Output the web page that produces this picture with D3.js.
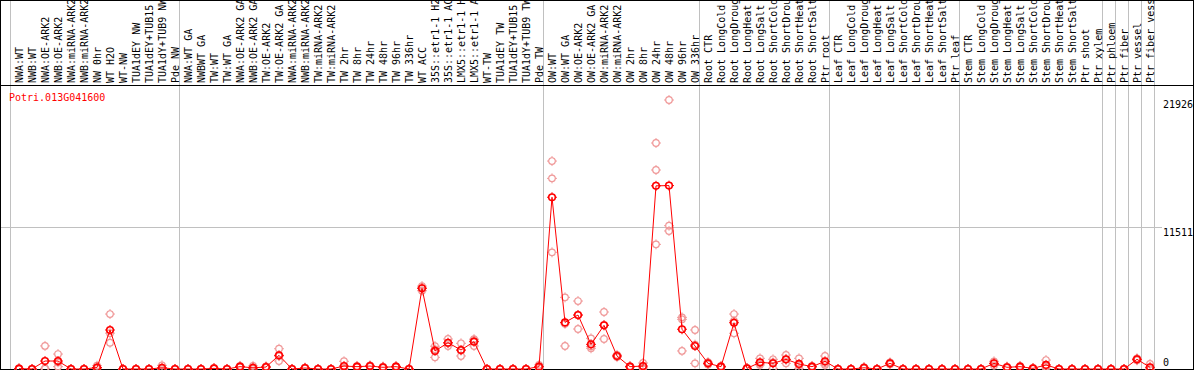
<!DOCTYPE html>
<html>
<head>
<meta charset="utf-8">
<script src="https://cdn.jsdelivr.net/npm/d3@7"></script>
<style>
  body { margin: 0; background: #fff; }
  text { font-family: "DejaVu Sans Mono", monospace; font-size: 10px; }
</style>
</head>
<body>
<div id="chart"></div>
<script>
'use strict';

var geneName = "Potri.013G041600";

var categories = [
    "NWA:WT", "NWB:WT", "NWA:OE-ARK2", "NWB:OE-ARK2", "NWA:miRNA-ARK2", "NWB:miRNA-ARK2", "NW 0hr", "WT H2O", "WT-NW", "TUA1dEY NW", "TUA1dEY+TUB15", "TUA1dY+TUB9 NW", "Pde NW",
    "NWA:WT GA", "NWBWT GA", "TW:WT", "TW:WT GA", "NWA:OE-ARK2 GA", "NWB:OE-ARK2 GA", "TW:OE-ARK2", "TW:OE-ARK2 GA", "NWA:miRNA-ARK2", "NWB:miRNA-ARK2", "TW:miRNA-ARK2", "TW:miRNA-ARK2",
    "TW 2hr", "TW 8hr", "TW 24hr", "TW 48hr", "TW 96hr", "TW 336hr", "WT ACC", "35S::etr1-1 H2O", "35S::etr1-1 ACC", "LMX5::etr1-1 H2O", "LMX5::etr1-1 ACC", "WT-TW", "TUA1dEY TW", "TUA1dEY+TUB15", "TUA1dY+TUB9 TW", "Pde TW",
    "OW:WT", "OW:WT GA", "OW:OE-ARK2", "OW:OE-ARK2 GA", "OW:miRNA-ARK2", "OW:miRNA-ARK2", "OW 2hr", "OW 8hr", "OW 24hr", "OW 48hr", "OW 96hr", "OW 336hr",
    "Root CTR", "Root LongCold", "Root LongDrought", "Root LongHeat", "Root LongSalt", "Root ShortCold", "Root ShortDrought", "Root ShortHeat", "Root ShortSalt", "Ptr root",
    "Leaf CTR", "Leaf LongCold", "Leaf LongDrought", "Leaf LongHeat", "Leaf LongSalt", "Leaf ShortCold", "Leaf ShortDrought", "Leaf ShortHeat", "Leaf ShortSalt", "Ptr leaf",
    "Stem CTR", "Stem LongCold", "Stem LongDrought", "Stem LongHeat", "Stem LongSalt", "Stem ShortCold", "Stem ShortDrought", "Stem ShortHeat", "Stem ShortSalt", "Ptr shoot", "Ptr xylem",
    "Ptr phloem", "Ptr fiber", "Ptr vessel", "Ptr fiber vessel"
];

// number of samples in each block (block separators are drawn between them)
var groupSizes = [13, 28, 12, 10, 10, 11, 1, 1, 1, 1];

var meanValues = [
    30, 0, 650, 650, 0, 0, 120, 3180, 0, 0, 0, 100, 0,
    0, 0, 50, 0, 190, 100, 160, 1115, 0, 80, 0, 0, 240, 190, 240, 140, 190, 0, 6580, 1470, 2140, 1550, 2225, 0, 0, 0, 0, 190,
    14000, 3800, 4400, 2010, 3560, 1060, 190, 240, 14930, 14950, 3240, 1875,
    460, 190, 3770, 50, 545, 460, 790, 410, 190, 625,
    0, 0, 100, 0, 460, 0, 0, 0, 0, 0,
    0, 0, 460, 140, 190, 50, 330, 0, 0, 0, 0,
    0, 0, 790, 140
];

var replicateA = [
    60, 0, 1880, 1220, 0, 0, 270, 4480, 0, 0, 0, 300, 0,
    0, 0, 80, 0, 250, 250, 220, 1650, 0, 120, 0, 0, 630, 250, 300, 200, 240, 0, 6760, 1860, 2445, 2095, 2435, 0, 0, 0, 0, 330,
    16950, 5840, 5540, 2500, 4645, 1150, 240, 490, 18420, 21926, 4210, 3180,
    560, 250, 4480, 80, 870, 790, 1140, 870, 250, 1060,
    0, 0, 150, 0, 540, 0, 0, 0, 0, 0,
    0, 0, 625, 200, 250, 80, 730, 0, 0, 0, 0,
    0, 0, 870, 410
];

var replicateB = [
    20, 0, 50, 540, 0, 0, 60, 2920, 0, 0, 0, 0, 0,
    0, 0, 50, 0, 180, 40, 150, 1050, 0, 80, 0, 0, 60, 180, 230, 130, 190, 0, 6600, 1600, 2100, 1500, 2365, 0, 0, 0, 0, 150,
    15540, 3685, 4400, 1840, 3590, 1060, 190, 150, 16220, 11680, 4050, 1985,
    460, 190, 3920, 50, 435, 540, 770, 310, 190, 490,
    0, 0, 100, 0, 460, 0, 0, 0, 0, 0,
    0, 0, 460, 140, 190, 50, 200, 0, 0, 0, 0,
    0, 0, 790, 10
];

var replicateC = [
    10, 0, 20, 190, 0, 0, 30, 2140, 0, 0, 0, 0, 0,
    0, 0, 20, 0, 140, 10, 110, 650, 0, 40, 0, 0, 30, 140, 190, 90, 140, 0, 6380, 950, 1875, 1060, 1875, 0, 0, 0, 0, 90,
    9510, 1875, 3260, 1690, 2445, 970, 140, 80, 10160, 11250, 1470, 460,
    370, 130, 2910, 20, 330, 50, 460, 50, 130, 330,
    0, 0, 50, 0, 380, 0, 0, 0, 0, 0,
    0, 0, 295, 80, 130, 20, 60, 0, 0, 0, 0,
    0, 0, 710, 0
];

var yTicks = [0, 11511, 21926];

var width = 1194, height = 370;
var step = 13, plotLeft = 10;
var headerBottom = 85, plotBottom = 369;
var labelX = 1163;

var svg = d3.select("#chart").append("svg")
    .attr("width", width)
    .attr("height", height);

var x = d3.scaleBand()
    .domain(d3.range(categories.length))
    .range([plotLeft, plotLeft + step * categories.length]);

// sample markers sit a bit right of the band middle
function px(i) { return x(i) + 9; }

var y = d3.scaleLinear()
    .domain([0, d3.max(yTicks)])
    .range([plotBottom, 100]);

//Trennlinien zwischen den Blöcken
var bounds = [0];
groupSizes.forEach(function (n) { bounds.push(bounds[bounds.length - 1] + n); });

svg.append("g")
    .selectAll("line")
    .data(bounds)
    .enter().append("line")
    .attr("x1", d => plotLeft + d * x.step() + 0.5)
    .attr("x2", d => plotLeft + d * x.step() + 0.5)
    .attr("y1", 0)
    .attr("y2", plotBottom)
    .attr("stroke", "#c0c0c0");

// horizontal grid line for middle tick
svg.append("g")
    .selectAll("line")
    .data(yTicks.filter(t => t > 0 && t < d3.max(yTicks)))
    .enter().append("line")
    .attr("x1", 1)
    .attr("x2", labelX - 1)
    .attr("y1", d => Math.round(y(d)) - 0.5)
    .attr("y2", d => Math.round(y(d)) - 0.5)
    .attr("stroke", "#c0c0c0");

// frame
svg.append("line")
    .attr("x1", 0).attr("x2", width)
    .attr("y1", headerBottom + 0.5).attr("y2", headerBottom + 0.5)
    .attr("stroke", "#000");
svg.append("line")
    .attr("x1", 0).attr("x2", width)
    .attr("y1", plotBottom + 0.5).attr("y2", plotBottom + 0.5)
    .attr("stroke", "#000");
svg.append("line")
    .attr("x1", 0).attr("x2", width)
    .attr("y1", 0.5).attr("y2", 0.5)
    .attr("stroke", "#000");
svg.append("line")
    .attr("x1", 0.5).attr("x2", 0.5)
    .attr("y1", 0).attr("y2", height)
    .attr("stroke", "#000");
svg.append("line")
    .attr("x1", width - 0.5).attr("x2", width - 0.5)
    .attr("y1", 0).attr("y2", height)
    .attr("stroke", "#000");

// sample names, rotated
svg.append("g")
    .selectAll("text")
    .data(categories)
    .enter().append("text")
    .attr("transform", (d, i) => "translate(" + (px(i) + 3.5) + "," + (headerBottom - 2) + ") rotate(-90)")
    .attr("fill", "#000")
    .text(d => d);

// gene title
svg.append("text")
    .attr("x", 9)
    .attr("y", 101)
    .attr("fill", "#ff0000")
    .text(geneName);

// y labels on the right
svg.append("g")
    .selectAll("text")
    .data(yTicks)
    .enter().append("text")
    .attr("x", labelX)
    .attr("y", d => d === 0 ? y(d) - 3 : y(d) + 8)
    .attr("fill", "#000")
    .text(d => d);

var tick = "M0,-5V-3M0,3V5M-5,0H-3M3,0H5";

function marker(g, color, sw) {
    g.append("circle")
        .attr("r", 3.3)
        .attr("fill", "none")
        .attr("stroke", color)
        .attr("stroke-width", sw);
    g.append("path")
        .attr("d", tick)
        .attr("fill", "none")
        .attr("stroke", color)
        .attr("stroke-width", 1);
}

var reps = [];
[replicateA, replicateB, replicateC].forEach(function (arr) {
    arr.forEach(function (v, i) { reps.push({ i: i, v: v }); });
});

svg.append("g")
    .selectAll("g")
    .data(reps)
    .enter().append("g")
    .attr("transform", d => "translate(" + px(d.i) + "," + y(d.v) + ")")
    .each(function () { marker(d3.select(this), "#f09a9a", 1.2); });

var line = d3.line()
    .x((d, i) => px(i))
    .y(d => y(d));

svg.append("path")
    .datum(meanValues)
    .attr("d", line)
    .attr("fill", "none")
    .attr("stroke", "#ff0000")
    .attr("stroke-width", 1);

svg.append("g")
    .selectAll("g")
    .data(meanValues)
    .enter().append("g")
    .attr("transform", (d, i) => "translate(" + px(i) + "," + y(d) + ")")
    .each(function () { marker(d3.select(this), "#ff0000", 1.6); });
</script>
</body>
</html>
